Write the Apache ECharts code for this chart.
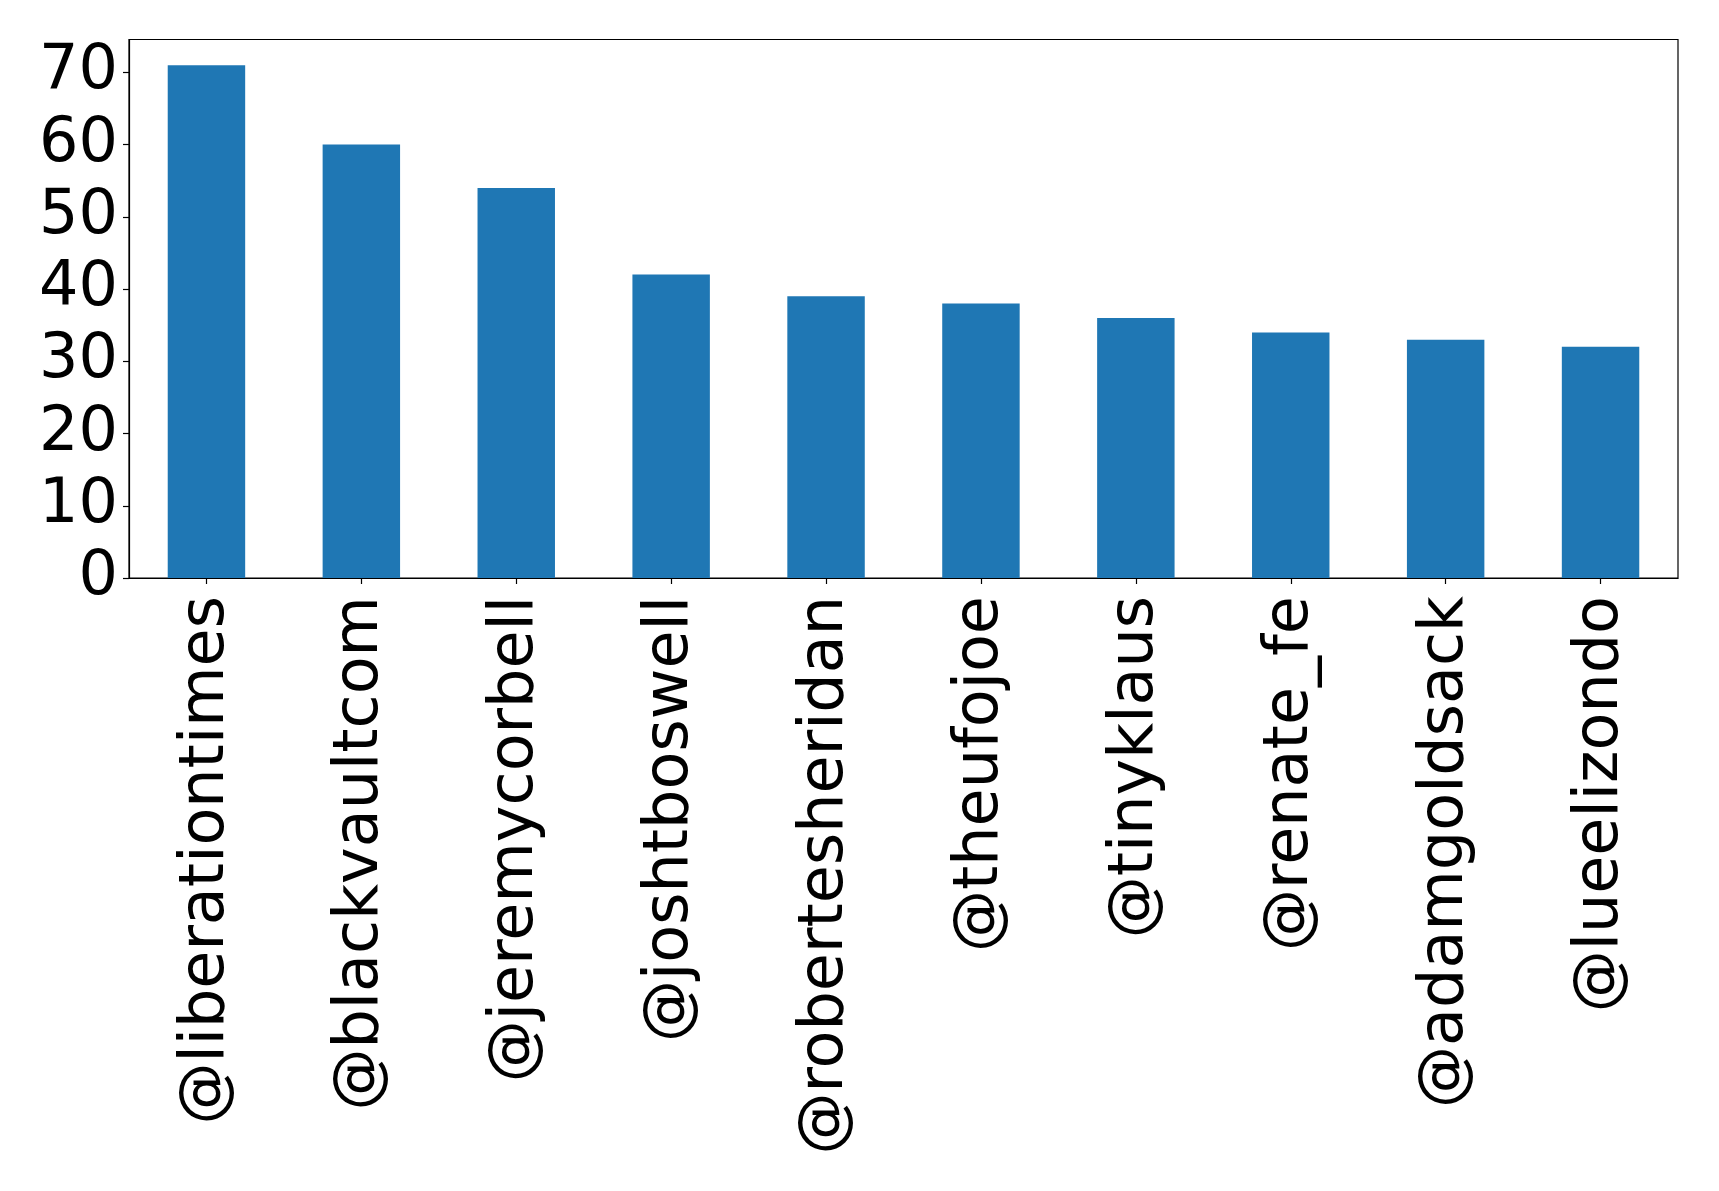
<!DOCTYPE html>
<html>
<head>
<meta charset="utf-8">
<script src="https://cdn.jsdelivr.net/npm/echarts@6/dist/echarts.min.js"></script>
<style>
html,body{margin:0;padding:0;background:#fff;}
#chart{width:1719px;height:1191px;}
</style>
</head>
<body>
<div id="chart"></div>
<script>
var categories = ["@liberationtimes","@blackvaultcom","@jeremycorbell","@joshtboswell","@robertesheridan","@theufojoe","@tinyklaus","@renate_fe","@adamgoldsack","@lueelizondo"];
var values = [71, 60, 54, 42, 39, 38, 36, 34, 33, 32];
var yTicks = [0, 10, 20, 30, 40, 50, 60, 70];

var chart = echarts.init(document.getElementById('chart'), null, {renderer: 'canvas'});
var font = 'DejaVu Sans';
chart.setOption({
  animation: false,
  backgroundColor: '#ffffff',
  grid: {
    left: 129, right: 41, top: 39.5, bottom: 613,
    show: true, borderColor: '#000', borderWidth: 1.2, backgroundColor: 'transparent'
  },
  xAxis: {
    type: 'category',
    data: categories,
    boundaryGap: true,
    axisLine: {show: true, lineStyle: {color: '#000', width: 1.2}},
    axisTick: {show: true, alignWithLabel: true, length: 6, lineStyle: {color: '#000', width: 1.2}},
    axisLabel: {rotate: 90, margin: 18, fontSize: 62, fontFamily: font, color: '#000', interval: 0}
  },
  yAxis: {
    type: 'value',
    min: 0,
    max: 74.55,
    interval: 10,
    axisLine: {show: true, lineStyle: {color: '#000', width: 1.2}},
    axisTick: {show: true, length: 6, lineStyle: {color: '#000', width: 1.2}},
    splitLine: {show: false},
    axisLabel: {
      margin: 11, fontSize: 62, fontFamily: font, color: '#000',
      showMaxLabel: false,
      formatter: function (v) { return yTicks.indexOf(v) >= 0 ? String(v) : ''; }
    }
  },
  series: [{
    type: 'bar',
    data: values,
    barWidth: '50%',
    itemStyle: {color: '#1f77b4'}
  }]
});
</script>
</body>
</html>
